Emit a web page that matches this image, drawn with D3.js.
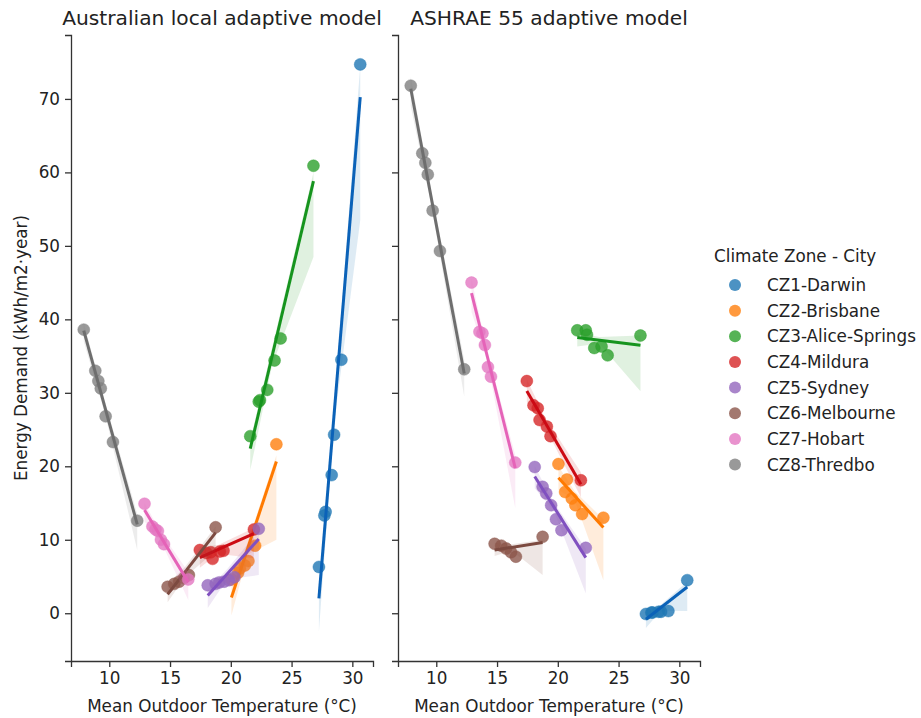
<!DOCTYPE html>
<html>
<head>
<meta charset="utf-8">
<script src="https://cdn.jsdelivr.net/npm/d3@7"></script>
<style>
  html, body { margin: 0; padding: 0; background: #ffffff; }
  svg text { font-family: "DejaVu Sans", sans-serif; fill: #222; }
</style>
</head>
<body>
<svg id="chart" width="921" height="718"></svg>
<script>
// ---------------- data ----------------
const cities = ["CZ1-Darwin", "CZ2-Brisbane", "CZ3-Alice-Springs", "CZ4-Mildura",
                "CZ5-Sydney", "CZ6-Melbourne", "CZ7-Hobart", "CZ8-Thredbo"];
const panelTitles = ["Australian local adaptive model", "ASHRAE 55 adaptive model"];
const xTicks = [10, 15, 20, 25, 30];
const yTicks = [0, 10, 20, 30, 40, 50, 60, 70];
const legendTitle = "Climate Zone - City";
const xLabel = "Mean Outdoor Temperature (°C)";
const yLabel = "Energy Demand (kWh/m2·year)";

// Mean outdoor temperature per city (shared by both panels)
const meanTemp = [
  [27.25, 27.7, 27.8, 28.3, 28.5, 29.1, 30.65],
  [20.05, 20.6, 20.75, 21.15, 21.45, 22.0, 23.75],
  [21.6, 22.3, 22.4, 23.0, 23.6, 24.1, 26.8],
  [17.45, 18.0, 18.35, 18.5, 19.1, 19.4, 21.9],
  [18.1, 18.75, 19.05, 19.45, 19.85, 20.3, 22.3],
  [14.8, 15.35, 15.75, 16.15, 16.55, 18.75],
  [12.9, 13.55, 13.8, 14.0, 14.25, 14.5, 16.5],
  [7.9, 8.85, 9.1, 9.3, 9.7, 10.3, 12.3]
];
// Energy demand - Australian local adaptive model
const localDemand = [
  [6.3, 13.3, 13.8, 18.8, 24.3, 34.5, 74.7],
  [4.6, 5.5, 6.1, 6.5, 7.1, 9.2, 23.0],
  [24.1, 28.8, 29.0, 30.4, 34.4, 37.4, 60.9],
  [8.6, 8.2, 8.3, 7.4, 8.4, 8.5, 11.4],
  [3.8, 4.0, 4.2, 4.3, 4.5, 4.9, 11.5],
  [3.6, 4.0, 4.3, 4.8, 5.2, 11.7],
  [14.9, 11.8, 11.4, 11.2, 10.0, 9.4, 4.6],
  [38.6, 33.0, 31.6, 30.6, 26.8, 23.3, 12.6]
];
// Energy demand - ASHRAE 55 adaptive model
const ashraeDemand = [
  [-0.1, 0.1, 0.1, 0.2, 0.2, 0.3, 4.5],
  [20.3, 16.5, 18.2, 15.6, 14.7, 13.5, 13.0],
  [38.5, 38.5, 37.9, 36.1, 36.3, 35.1, 37.8],
  [31.6, 28.3, 27.9, 26.3, 25.4, 24.1, 18.1],
  [19.9, 17.2, 16.3, 14.7, 12.8, 11.3, 8.9],
  [9.45, 9.2, 8.8, 8.3, 7.7, 10.4],
  [45.0, 38.3, 38.1, 36.5, 33.5, 32.2, 20.5],
  [71.8, 62.6, 61.3, 59.7, 54.8, 49.3, 33.2]
];
// Bootstrap confidence band (at min, mean, max temperature of each city)
const localBandLo = [
  [-2.5, 25.4, 53.5], [-0.3, 8.0, 10.0], [19.5, 33.8, 48.5], [6.2, 8.1, 7.5],
  [0.7, 4.6, 5.2], [1.5, 4.9, 8.5], [12.5, 9.9, 1.8], [37.0, 27.2, 8.6]
];
const localBandHi = [
  [3.5, 27.7, 74.5], [3.5, 9.7, 21.5], [23.5, 36.2, 60.0], [9.0, 9.3, 11.6],
  [3.2, 6.0, 11.2], [3.9, 6.3, 11.8], [15.0, 11.1, 5.6], [39.5, 28.9, 13.5]
];
const ashraeBandLo = [
  [-2.0, 0.35, 0.3], [16.8, 15.4, 4.5], [36.3, 36.7, 30.2], [28.8, 25.3, 15.8],
  [17.0, 13.9, 2.7], [7.8, 8.5, 5.2], [41.0, 34.2, 14.3], [69.0, 55.2, 29.5]
];
const ashraeBandHi = [
  [0.3, 1.15, 4.3], [20.0, 16.6, 12.8], [38.2, 37.6, 37.8], [31.8, 26.6, 19.2],
  [20.0, 15.0, 8.8], [9.6, 9.4, 10.0], [45.5, 35.5, 21.5], [73.0, 57.0, 34.5]
];

const pointColors = ["#1f77b4", "#ff7f0e", "#2ca02c", "#d62728", "#9467bd", "#8c564b", "#e377c2", "#7f7f7f"];
const lineColors  = ["#0b62b8", "#ff7a00", "#16941e", "#cc0a14", "#8050c0", "#7c4a40", "#e563b8", "#6e6e6e"];

// ---------------- layout ----------------
const svg = d3.select("#chart");
const plotTop = 35, plotBottom = 661;
const panelX = [[71, 373], [398, 700]];
const xDomain = [6.85, 31.7];
const yDomain = [-6.5, 78.7];
const yScale = d3.scaleLinear().domain(yDomain).range([plotBottom, plotTop]);
const fontSize = 16.8;

const panels = [
  { demand: localDemand, lo: localBandLo, hi: localBandHi },
  { demand: ashraeDemand, lo: ashraeBandLo, hi: ashraeBandHi }
];

function fit(xs, ys) {
  const mx = d3.mean(xs), my = d3.mean(ys);
  let sxy = 0, sxx = 0;
  xs.forEach((xv, i) => { sxy += (xv - mx) * (ys[i] - my); sxx += (xv - mx) ** 2; });
  const b = sxy / sxx;
  return xv => my + b * (xv - mx);
}

panels.forEach((p, pi) => {
  const xScale = d3.scaleLinear().domain(xDomain).range(panelX[pi]);
  const g = svg.append("g");

  cities.forEach((c, ci) => {
    const xs = meanTemp[ci], ys = p.demand[ci];
    const sg = g.append("g");
    sg.selectAll("circle").data(xs.map((xv, i) => [xv, ys[i]])).join("circle")
      .attr("cx", d => xScale(d[0])).attr("cy", d => yScale(d[1])).attr("r", 6)
      .attr("fill", pointColors[ci]).attr("fill-opacity", 0.8)
      .attr("stroke", pointColors[ci]).attr("stroke-opacity", 0.5).attr("stroke-width", 0.8);
    const bx = [d3.min(xs), d3.mean(xs), d3.max(xs)];
    const band = bx.map((xv, i) => ({ x: xv, lo: p.lo[ci][i], hi: p.hi[ci][i] }));
    sg.append("path").datum(band)
      .attr("d", d3.area().x(d => xScale(d.x)).y0(d => yScale(d.lo)).y1(d => yScale(d.hi)))
      .attr("fill", pointColors[ci]).attr("fill-opacity", 0.15);
    const f = fit(xs, ys);
    const ends = [d3.min(xs), d3.max(xs)];
    sg.append("path").datum(ends)
      .attr("d", d3.line().x(d => xScale(d)).y(d => yScale(f(d))))
      .attr("stroke", lineColors[ci]).attr("stroke-width", 3).attr("fill", "none");
  });

  const xa = g.append("g").attr("transform", `translate(0,${plotBottom})`)
    .call(d3.axisBottom(xScale).tickValues(xTicks).tickSizeOuter(0).tickSize(6).tickPadding(5));
  const ya = g.append("g").attr("transform", `translate(${panelX[pi][0]},0)`)
    .call(d3.axisLeft(yScale).tickValues(yTicks).tickSizeOuter(0).tickSize(6).tickPadding(5)
      .tickFormat(pi === 0 ? d3.format("d") : () => ""));
  [xa, ya].forEach(a => {
    a.select(".domain").attr("stroke", "#333").attr("stroke-width", 1.3);
    a.selectAll(".tick line").attr("stroke", "#333").attr("stroke-width", 1.3);
    a.selectAll(".tick text").attr("font-size", fontSize).attr("fill", "#222")
      .style("font-family", "DejaVu Sans");
  });

  const cx = (panelX[pi][0] + panelX[pi][1]) / 2;
  g.append("text").attr("x", cx).attr("y", 25).attr("text-anchor", "middle")
    .attr("font-size", 20.2).text(panelTitles[pi]);
  g.append("text").attr("x", cx).attr("y", 712).attr("text-anchor", "middle")
    .attr("font-size", fontSize).text(xLabel);
});

svg.append("text").attr("transform", `translate(27,${(plotTop + plotBottom) / 2}) rotate(-90)`)
  .attr("text-anchor", "middle").attr("font-size", fontSize).text(yLabel);

const lg = svg.append("g");
lg.append("text").attr("x", 714).attr("y", 262).attr("font-size", fontSize).text(legendTitle);
cities.forEach((c, ci) => {
  const cy = 285 + ci * 25.65;
  lg.append("circle").attr("cx", 735).attr("cy", cy).attr("r", 6)
    .attr("fill", pointColors[ci]).attr("fill-opacity", 0.8);
  lg.append("text").attr("x", 767).attr("y", cy + 6).attr("font-size", fontSize).text(c);
});
</script>
</body>
</html>
